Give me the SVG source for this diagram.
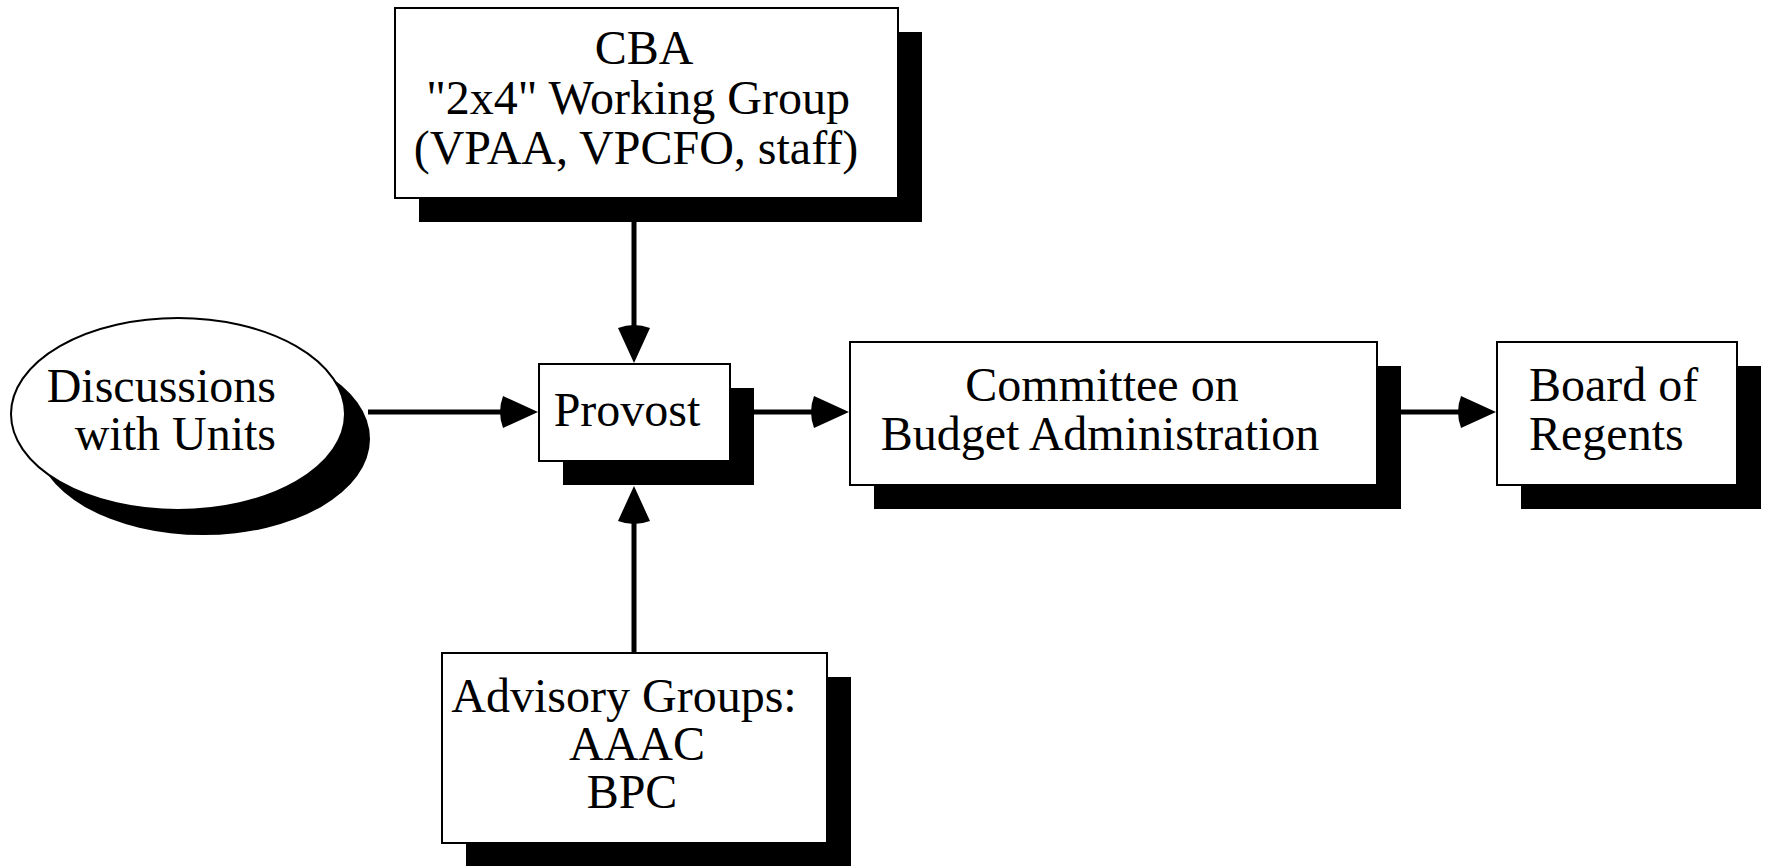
<svg xmlns="http://www.w3.org/2000/svg" width="1768" height="866" viewBox="0 0 1768 866">
<style>
.box{fill:#fff;stroke:#000;stroke-width:2}
.sh{fill:#000}
.t{font-family:"Liberation Serif","Times New Roman",serif;font-size:48px;fill:#000}
.c{text-anchor:middle}
.e{text-anchor:end}
.ln{stroke:#000;stroke-width:5;fill:none;marker-end:url(#ah)}
</style>
<defs>
<marker id="ah" markerUnits="userSpaceOnUse" viewBox="-8 -17 44 34" markerWidth="44" markerHeight="34" refX="15" refY="0" orient="auto">
<path d="M0,-16 L35,0 L0,16 Q-6,0 0,-16 Z" fill="#000"/>
</marker>
</defs>
<rect width="1768" height="866" fill="#fff"/>
<g id="connectors">
<line class="ln" x1="634" y1="222" x2="634" y2="343"/>
<line class="ln" x1="634" y1="653" x2="634" y2="506"/>
<line class="ln" x1="368" y1="412" x2="518" y2="412"/>
<line class="ln" x1="754" y1="412" x2="829" y2="412"/>
<line class="ln" x1="1401" y1="412" x2="1476" y2="412"/>
</g>
<g id="cba">
<rect class="sh" x="419" y="32" width="503" height="190"/>
<rect class="box" x="395" y="8" width="503" height="190"/>
<text class="t c" x="644" y="64">CBA</text>
<text class="t c" x="638" y="114">"2x4" Working Group</text>
<text class="t c" x="636" y="164">(VPAA, VPCFO, staff)</text>
</g>
<g id="discussions">
<ellipse class="sh" cx="203" cy="439" rx="167" ry="96"/>
<ellipse class="box" cx="178" cy="414" rx="167" ry="96"/>
<text class="t e" x="276" y="402">Discussions</text>
<text class="t e" x="276" y="450">with Units</text>
</g>
<g id="provost">
<rect class="sh" x="563" y="388" width="191" height="97"/>
<rect class="box" x="539" y="364" width="191" height="97"/>
<text class="t c" x="627" y="426">Provost</text>
</g>
<g id="committee">
<rect class="sh" x="874" y="366" width="527" height="143"/>
<rect class="box" x="850" y="342" width="527" height="143"/>
<text class="t c" x="1102" y="401">Committee on</text>
<text class="t c" x="1100" y="450">Budget Administration</text>
</g>
<g id="board">
<rect class="sh" x="1521" y="366" width="240" height="143"/>
<rect class="box" x="1497" y="342" width="240" height="143"/>
<text class="t" x="1529" y="401">Board of</text>
<text class="t" x="1529" y="450">Regents</text>
</g>
<g id="advisory">
<rect class="sh" x="466" y="677" width="385" height="190"/>
<rect class="box" x="442" y="653" width="385" height="190"/>
<text class="t c" x="624" y="712">Advisory Groups:</text>
<text class="t c" x="637" y="760">AAAC</text>
<text class="t c" x="632" y="808">BPC</text>
</g>
</svg>
